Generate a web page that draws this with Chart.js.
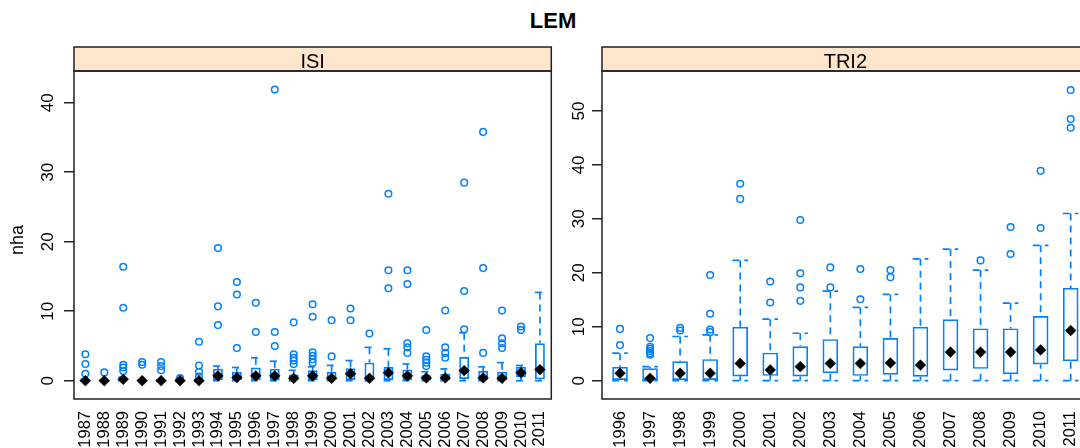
<!DOCTYPE html>
<html>
<head>
<meta charset="utf-8">
<script src="https://cdn.jsdelivr.net/npm/chart.js@4.4.1/dist/chart.umd.min.js"></script>
<style>
  html, body { margin: 0; padding: 0; width: 1080px; height: 448px; overflow: hidden; background: #fff; }
  #main { position: absolute; left: 553px; top: 10px; transform: translateX(-50%);
          font: bold 22px/22px "Liberation Sans", Arial, sans-serif; color: #000; white-space: nowrap; }
  canvas { position: absolute; top: 0; }
  #c1 { left: 0; }
  #c2 { left: 563px; }
</style>
</head>
<body>
<div id="main">LEM</div>
<canvas id="c1" width="572" height="448"></canvas>
<canvas id="c2" width="540" height="448"></canvas>
<script>
// ISI: yearly box statistics of nha
const isiYears = ['1987','1988','1989','1990','1991','1992','1993','1994','1995','1996','1997','1998','1999',
                  '2000','2001','2002','2003','2004','2005','2006','2007','2008','2009','2010','2011'];
const isiLow  = [0,0,0,0,0,0,0, 0,0,0,0,0,0,0,0,0,0,0,0,0,0,0,0,0,0];
const isiQ1   = [0,0,0,0,0,0,0, 0.1,0,0,0.1,0,0,0,0.1,0,0.1,0.1,0,0,0.25,0,0,0.5,0.2];
const isiMed  = [0,0,0.2,0,0,0,0, 0.7,0.45,0.7,0.7,0.35,0.7,0.35,1.0,0.35,1.15,0.7,0.4,0.4,1.45,0.4,0.35,1.15,1.6];
const isiQ3   = [0.1,0,0.3,0,0,0.1,0.1, 1.7,1.3,1.9,1.7,0.9,1.5,1.3,1.8,2.6,2.0,1.6,0.8,1.0,3.4,1.4,1.3,2.0,5.4];
const isiHigh = [0.2,0.1,0.5,0.1,0.1,0.2,0.2, 2.1,1.9,3.3,2.8,1.5,2.0,2.2,2.9,4.8,4.6,2.4,1.3,1.7,6.9,2.0,2.6,2.2,12.7];
const isiOut  = [
  [3.8,2.4,1.0], [1.2], [16.4,10.5,2.3,1.9,1.4], [2.7,2.3], [2.7,2.1,1.5], [0.4], [5.6,2.2,1.3,0.6],
  [19.1,10.7,8.0], [14.2,12.4,4.7], [11.2,7.0], [41.9,7.0,5.0], [8.4,3.8,3.3,2.9,2.4],
  [11.0,9.2,4.1,3.6,3.1,2.6], [8.7,3.5], [10.4,8.7], [6.8], [26.9,15.9,13.3], [15.9,13.9,5.4,4.8,4.0],
  [7.3,3.5,3.0,2.6,2.1], [10.1,4.8,4.0,3.3], [28.5,12.9,7.4], [35.8,16.2,4.0], [10.1,6.1,5.4,4.7],
  [7.8,7.3], []
];
const isiTicks = [0, 10, 20, 30, 40];

// TRI2: yearly box statistics of nha
const triYears = ['1996','1997','1998','1999','2000','2001','2002','2003','2004','2005','2006','2007',
                  '2008','2009','2010','2011'];
const triLow  = [0,0,0,0,0,0,0,0,0,0,0,0,0,0,0,0];
const triQ1   = [0,0,0,0,0.8,0.9,0.8,1.4,0.9,1.1,0.75,1.9,2.2,1.2,3.0,3.6];
const triMed  = [1.4,0.45,1.4,1.4,3.2,2.0,2.6,3.2,3.2,3.3,2.9,5.3,5.3,5.3,5.7,9.3];
const triQ3   = [2.6,2.3,3.6,4.0,10.0,5.2,6.4,7.7,6.4,7.9,10.0,11.4,9.7,9.7,12.0,17.2];
const triHigh = [5.1,2.6,8.2,8.5,22.3,11.4,8.8,16.6,13.6,16.0,22.6,24.4,20.5,14.4,25.1,31.0];
const triOut  = [
  [9.6,6.6], [7.9,6.3,5.9,5.5,5.1,4.8], [9.8,9.3], [19.6,12.4,9.5,9.0], [36.5,33.7], [18.4,14.5],
  [29.8,19.9,17.3,14.8], [21.0,17.3], [20.7,15.1], [20.5,19.2], [], [], [22.3], [28.5,23.5],
  [38.9,28.3], [53.9,48.5,46.9]
];
const triTicks = [0, 10, 20, 30, 40, 50];

const BOX_COLOR = '#0080ff';
const FRAME = '#222';
const FONT = '"Liberation Sans", Arial, sans-serif';
Chart.defaults.font.family = FONT;
Chart.defaults.color = '#000';

function boxPanel(canvasId, p) {
  const n = p.years.length;
  const boxes = p.years.map((_, i) => ({ x: i + 1, y: [p.q1[i], p.q3[i]] }));
  const medians = p.years.map((_, i) => ({ x: i + 1, y: p.med[i] }));
  const outliers = [];
  p.out.forEach((list, i) => list.forEach(v => outliers.push({ x: i + 1, y: v })));

  // dashed whiskers with caps, strip, frame and axis label
  const panelDeco = {
    id: 'panelDeco',
    beforeDatasetsDraw(chart) {
      const ctx = chart.ctx, xs = chart.scales.x, ys = chart.scales.y;
      const bars = chart.getDatasetMeta(1).data;
      ctx.save();
      ctx.strokeStyle = BOX_COLOR;
      ctx.lineWidth = 1.7;
      ctx.setLineDash([7, 5]);
      for (let i = 0; i < n; i++) {
        const px = xs.getPixelForValue(i + 1);
        const hw = bars[i].width / 2;
        [[p.high[i], p.q3[i]], [p.low[i], p.q1[i]]].forEach(([end, edge]) => {
          const pe = ys.getPixelForValue(end), pb = ys.getPixelForValue(edge);
          ctx.beginPath(); ctx.moveTo(px, pe); ctx.lineTo(px, pb); ctx.stroke();
          ctx.beginPath(); ctx.moveTo(px - hw, pe); ctx.lineTo(px + hw, pe); ctx.stroke();
        });
      }
      ctx.restore();
    },
    afterDraw(chart) {
      const ctx = chart.ctx, a = chart.chartArea;
      const stripTop = 47;
      ctx.save();
      ctx.fillStyle = '#ffe5cc';
      ctx.fillRect(a.left, stripTop, a.right - a.left, a.top - stripTop);
      ctx.strokeStyle = FRAME;
      ctx.lineWidth = 1.5;
      ctx.strokeRect(a.left, stripTop, a.right - a.left, a.top - stripTop);
      ctx.strokeRect(a.left, a.top, a.right - a.left, a.bottom - a.top);
      ctx.fillStyle = '#000';
      ctx.font = '20px ' + FONT;
      ctx.textAlign = 'center';
      ctx.textBaseline = 'alphabetic';
      ctx.fillText(p.name, (a.left + a.right) / 2, 68);
      if (p.ylab) {
        ctx.translate(23, 240);
        ctx.rotate(-Math.PI / 2);
        ctx.font = '18px ' + FONT;
        ctx.fillText(p.ylab, 0, 0);
      }
      ctx.restore();
    }
  };

  return new Chart(document.getElementById(canvasId), {
    type: 'bar',
    data: {
      datasets: [
        { type: 'line', data: medians, showLine: false, order: 0,
          pointStyle: 'rectRot', pointRadius: 5.4, pointBackgroundColor: '#000',
          pointBorderColor: '#000', pointBorderWidth: 0.5 },
        { type: 'bar', data: boxes, order: 1, backgroundColor: 'rgba(0,0,0,0)',
          borderColor: BOX_COLOR, borderWidth: 1.7, borderSkipped: false,
          barPercentage: 0.52, categoryPercentage: 1 },
        { type: 'line', data: outliers, showLine: false, order: 2,
          pointStyle: 'circle', pointRadius: 3.3, pointBackgroundColor: 'rgba(0,0,0,0)',
          pointBorderColor: BOX_COLOR, pointBorderWidth: 1.5 }
      ]
    },
    options: {
      responsive: false,
      animation: false,
      events: [],
      layout: { padding: { left: 0, top: 71, right: p.padRight, bottom: 0 } },
      plugins: { legend: { display: false }, tooltip: { enabled: false } },
      scales: {
        x: {
          type: 'linear', offset: false, min: 0.4, max: n + 0.6,
          afterBuildTicks: s => { s.ticks = p.years.map((_, i) => ({ value: i + 1 })); },
          afterFit: s => { s.height = 49; },
          grid: { display: false, drawTicks: false, offset: false },
          border: { display: false },
          ticks: { autoSkip: false, minRotation: 90, maxRotation: 90, padding: 12,
                   font: { size: 16.5 }, color: '#000',
                   callback: v => p.years[v - 1] }
        },
        y: {
          type: 'linear', min: p.yMin, max: p.yMax,
          afterBuildTicks: s => { s.ticks = p.ticks.map(v => ({ value: v })); },
          afterFit: s => { s.width = p.axisWidth; },
          grid: { drawOnChartArea: false, tickLength: 10, color: FRAME, lineWidth: 1.5 },
          border: { display: false },
          ticks: { minRotation: 90, maxRotation: 90, crossAlign: 'center', padding: p.tickPad,
                   font: { size: 17 }, color: '#000' }
        }
      }
    },
    plugins: [panelDeco]
  });
}

boxPanel('c1', {
  name: 'ISI', ylab: 'nha', years: isiYears, low: isiLow, q1: isiQ1, med: isiMed, q3: isiQ3,
  high: isiHigh, out: isiOut, ticks: isiTicks, yMin: -2.63, yMax: 44.56,
  axisWidth: 74, padRight: 11, tickPad: 6
});
boxPanel('c2', {
  name: 'TRI2', years: triYears, low: triLow, q1: triQ1, med: triMed, q3: triQ3,
  high: triHigh, out: triOut, ticks: triTicks, yMin: -3.39, yMax: 57.41,
  axisWidth: 39, padRight: 14, tickPad: 3
});
</script>
</body>
</html>
